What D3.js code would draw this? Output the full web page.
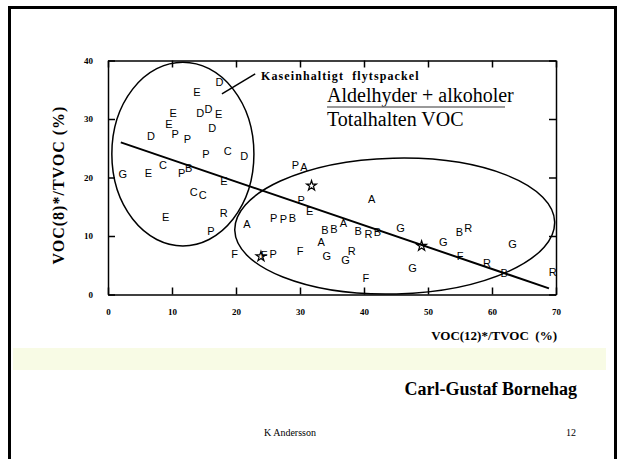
<!DOCTYPE html>
<html>
<head>
<meta charset="utf-8">
<script src="https://cdn.jsdelivr.net/npm/d3@7"></script>
<style>
  body { margin: 0; background: #fff; }
  svg { display: block; }
  .tick text { font-family: "Liberation Serif", serif; font-weight: bold; font-size: 9px; }
  .frame .domain, .frame .tick line { stroke: #000; stroke-width: 1.5; }
  .pt { font-family: "Liberation Sans", Arial, sans-serif; font-size: 11px; }
</style>
</head>
<body>
<div id="chart"></div>
<script>
var width = 623,
    height = 459;

// samples: letter code, VOC(12)*/TVOC, VOC(8)*/TVOC
var codes = ['D','E','D','D','E','E','E','D','D','P','P','P','C','D','C','E','G','P','B','E','C','C','E','R','P',
             'A','F','*','F','P','F','P','P','B','P','E','*','P','A','B','B','A','A','B','R','B','A','G',
             'G','G','R','F','G','*','G','B','R','F','R','G','B','R'];
var xVals = [17.4,13.9,14.4,15.7,17.3,10.2,9.5,16.3,6.7,10.5,12.4,15.3,18.7,21.3,8.6,6.3,2.3,11.5,12.6,18.1,13.4,14.8,9.0,18.1,16.1,
             21.7,19.8,23.9,24.4,25.8,30.0,25.9,27.4,28.8,30.2,31.5,31.8,29.3,30.6,33.9,35.3,36.8,33.3,39.1,40.7,42.1,41.2,45.7,
             34.2,37.1,38.1,40.3,47.6,49.0,52.4,54.9,56.3,55.0,59.2,63.2,61.9,69.5];
var yVals = [36.4,34.6,31.1,31.7,30.8,31.1,29.1,28.5,27.1,27.4,26.5,24.0,24.6,23.7,22.1,20.8,20.6,20.8,21.6,19.4,17.5,17.0,13.3,14.0,10.9,
             12.0,7.0,6.5,6.7,6.9,7.4,13.0,12.9,13.1,16.1,14.3,18.6,22.1,21.8,11.0,11.2,12.2,8.9,10.9,10.3,10.6,16.3,11.3,
             6.6,5.9,7.4,2.8,4.6,8.3,8.9,10.6,11.4,6.5,5.4,8.6,3.7,3.8];

// regression line end points
var fitX = [2.0, 68.9];
var fitY = [26.0, 1.05];

// cluster ellipses: centre, radii (data units), rotation
var ellCx = [11.7, 44.8];
var ellCy = [24.0, 11.7];
var ellRx = [11.1, 25.0];
var ellRy = [15.7, 11.6];
var ellRot = [0, -1.5];

// pointer for the label
var pointerX = [17.8, 23.0];
var pointerY = [34.3, 37.7];

var xTicks = [0, 10, 20, 30, 40, 50, 60, 70];
var yTicks = [0, 10, 20, 30, 40];

var svg = d3.select('#chart')
    .append('svg')
    .attr('width', width)
    .attr('height', height);

// slide background
svg.append('rect')
    .attr('x', 13).attr('y', 348)
    .attr('width', 593).attr('height', 22)
    .attr('fill', '#f8fbe5');

svg.append('rect')
    .attr('x', 9.5).attr('y', 7.5)
    .attr('width', 606).attr('height', 480)
    .attr('fill', 'none')
    .attr('stroke', '#000')
    .attr('stroke-width', 3);

var x = d3.scaleLinear().domain([0, 70]).range([108, 556]);
var y = d3.scaleLinear().domain([0, 40]).range([294.5, 60.5]);

svg.append('g')
    .attr('class', 'frame')
    .attr('transform', 'translate(0,' + y(0) + ')')
    .call(d3.axisBottom(x).tickValues(xTicks).tickSize(-7).tickSizeOuter(0).tickPadding(14));

svg.append('g')
    .attr('class', 'frame')
    .attr('transform', 'translate(' + x(0) + ',0)')
    .call(d3.axisLeft(y).tickValues(yTicks).tickSize(-7).tickSizeOuter(0).tickPadding(15));

svg.append('g')
    .attr('class', 'frame')
    .attr('transform', 'translate(0,' + y(40) + ')')
    .call(d3.axisTop(x).tickValues(xTicks).tickSize(-7).tickSizeOuter(0).tickFormat(''));

svg.append('g')
    .attr('class', 'frame')
    .attr('transform', 'translate(' + x(70) + ',0)')
    .call(d3.axisRight(y).tickValues(yTicks).tickSize(-7).tickSizeOuter(0).tickFormat(''));

svg.selectAll('.tick text').attr('fill', '#000');

// ellipses
svg.selectAll('ellipse')
    .data(ellCx)
    .enter()
    .append('ellipse')
    .attr('cx', (d, i) => x(d))
    .attr('cy', (d, i) => y(ellCy[i]))
    .attr('rx', (d, i) => x(ellRx[i]) - x(0))
    .attr('ry', (d, i) => y(0) - y(ellRy[i]))
    .attr('transform', (d, i) => 'rotate(' + ellRot[i] + ',' + x(d) + ',' + y(ellCy[i]) + ')')
    .attr('fill', 'none')
    .attr('stroke', '#000')
    .attr('stroke-width', 1.5);

// regression line
svg.append('line')
    .attr('x1', x(fitX[0])).attr('y1', y(fitY[0]))
    .attr('x2', x(fitX[1])).attr('y2', y(fitY[1]))
    .attr('stroke', '#000')
    .attr('stroke-width', 2);

svg.append('line')
    .attr('x1', x(pointerX[0])).attr('y1', y(pointerY[0]))
    .attr('x2', x(pointerX[1])).attr('y2', y(pointerY[1]))
    .attr('stroke', '#000')
    .attr('stroke-width', 1.5);

var pts = codes.map((c, i) => ({ c: c, x: xVals[i], y: yVals[i] }));

svg.selectAll('text.pt')
    .data(pts.filter(d => d.c !== '*'))
    .enter()
    .append('text')
    .attr('class', 'pt')
    .attr('x', d => x(d.x))
    .attr('y', d => y(d.y))
    .attr('text-anchor', 'middle')
    .attr('dominant-baseline', 'central')
    .text(d => d.c);

svg.selectAll('path.star')
    .data(pts.filter(d => d.c === '*'))
    .enter()
    .append('path')
    .attr('class', 'star')
    .attr('d', d3.symbol(d3.symbolStar, 30))
    .attr('transform', d => 'translate(' + x(d.x) + ',' + y(d.y) + ')')
    .attr('fill', 'none')
    .attr('stroke', '#000')
    .attr('stroke-width', 1.2);

// texts
var serif = '"Liberation Serif", "Times New Roman", serif';

svg.append('text')
    .attr('x', 261).attr('y', 80)
    .attr('font-family', serif).attr('font-weight', 'bold').attr('font-size', 12)
    .attr('letter-spacing', 1.1)
    .attr('xml:space', 'preserve')
    .text('Kaseinhaltigt  flytspackel');

svg.append('text')
    .attr('x', 327).attr('y', 102)
    .attr('font-family', serif).attr('font-size', 20)
    .text('Aldelhyder + alkoholer');

svg.append('line')
    .attr('x1', 327).attr('x2', 505)
    .attr('y1', 107).attr('y2', 107)
    .attr('stroke', '#777').attr('stroke-width', 1.5);

svg.append('text')
    .attr('x', 327).attr('y', 126)
    .attr('font-family', serif).attr('font-size', 20)
    .text('Totalhalten VOC');

svg.append('text')
    .attr('transform', 'translate(64,185) rotate(-90)')
    .attr('text-anchor', 'middle')
    .attr('font-family', serif).attr('font-weight', 'bold').attr('font-size', 16)
    .attr('letter-spacing', 1)
    .text('VOC(8)*/TVOC (%)');

svg.append('text')
    .attr('x', 557).attr('y', 340)
    .attr('text-anchor', 'end')
    .attr('font-family', serif).attr('font-weight', 'bold').attr('font-size', 13)
    .attr('xml:space', 'preserve')
    .text('VOC(12)*/TVOC  (%)');

svg.append('text')
    .attr('x', 577).attr('y', 395)
    .attr('text-anchor', 'end')
    .attr('font-family', serif).attr('font-weight', 'bold').attr('font-size', 18)
    .text('Carl-Gustaf Bornehag');

svg.append('text')
    .attr('x', 290).attr('y', 436)
    .attr('text-anchor', 'middle')
    .attr('font-family', serif).attr('font-size', 10)
    .text('K Andersson');

svg.append('text')
    .attr('x', 576).attr('y', 436)
    .attr('text-anchor', 'end')
    .attr('font-family', serif).attr('font-size', 10)
    .text('12');
</script>
</body>
</html>
